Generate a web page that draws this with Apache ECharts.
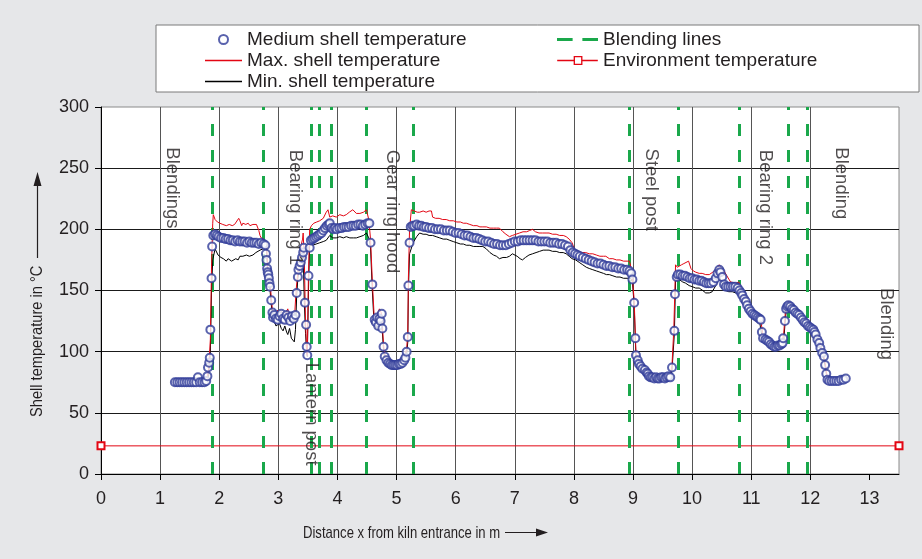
<!DOCTYPE html>
<html><head><meta charset="utf-8">
<script src="https://cdn.jsdelivr.net/npm/echarts@6/dist/echarts.min.js"></script>
<style>html,body{margin:0;padding:0;background:#e6e7e9;}#c{width:922px;height:559px;}</style>
</head><body><div id="c"></div>
<script>
const xTickLabels = [0,1,2,3,4,5,6,7,8,9,10,11,12,13];
const blendingX = [1.89, 2.74, 3.55, 3.70, 3.89, 4.49, 5.28, 8.93, 9.76, 10.79, 11.62, 11.95];
const envTemp = [[0,23],[13.5,23]];
const annotations = [
  ['Blendings', 1.20, 267],
  ['Bearing ring 1', 3.28, 265],
  ['Lantern post', 3.56, 91],
  ['Gear ring hood', 4.92, 265],
  ['Steel post', 9.31, 266],
  ['Bearing ring 2', 11.23, 265],
  ['Blending', 12.52, 267],
  ['Blending', 13.29, 152]
];
const mediumShell = [
[1.25,75],[1.29,75],[1.33,75],[1.37,75],[1.41,75],[1.45,75],[1.49,75],[1.53,75],[1.57,75],[1.61,75],[1.64,79],[1.67,75],[1.71,75],[1.75,75],[1.78,76],
[1.80,80],[1.81,87],[1.83,91],[1.84,95],[1.85,118],[1.87,160],[1.88,186],
[1.90,195],[1.93,196],[1.96,195],[1.99,194],[2.03,193],[2.07,193],[2.11,192],[2.15,192],[2.19,191],[2.23,191],[2.27,190],[2.31,191],[2.35,190],[2.39,190],[2.43,190],[2.47,189],[2.51,190],[2.55,189],[2.59,189],[2.63,189],[2.67,188],[2.71,189],[2.75,188],
[2.78,187],[2.79,180],[2.80,175],[2.81,168],[2.82,165],[2.83,163],[2.84,160],[2.85,156],[2.86,153],[2.88,142],[2.90,132],[2.91,128],
[2.93,130],[2.96,127],[2.99,126],[3.02,129],[3.05,131],[3.08,127],[3.11,126],[3.14,130],[3.17,128],[3.20,125],[3.23,129],[3.26,127],[3.29,130],
[3.31,148],[3.33,161],[3.34,167],[3.36,170],[3.38,173],[3.40,177],[3.42,181],[3.43,185],
[3.45,140],[3.47,122],[3.48,104],[3.49,97],[3.51,162],[3.53,185],
[3.55,191],[3.58,192],[3.61,193],[3.64,194],[3.67,195],[3.70,196],[3.73,197],[3.76,199],[3.79,201],[3.82,203],[3.85,204],[3.87,205],[3.90,201],[3.93,200],[3.96,201],[3.99,200],[4.03,201],[4.07,201],[4.11,202],[4.15,202],[4.19,202],[4.23,203],[4.27,203],[4.31,203],[4.35,204],[4.39,204],[4.43,203],[4.47,204],[4.51,205],[4.54,205],
[4.56,189],[4.59,155],[4.63,126],[4.65,124],[4.67,128],[4.69,121],[4.71,127],[4.73,125],[4.75,131],[4.76,119],[4.78,104],[4.80,96],
[4.83,93],[4.86,91],[4.89,90],[4.92,89],[4.95,89],[4.98,89],[5.01,89],[5.04,90],[5.07,90],[5.10,91],[5.13,93],[5.15,95],[5.17,100],[5.19,112],[5.20,154],[5.22,189],
[5.24,202],[5.27,203],[5.30,203],[5.34,204],[5.38,203],[5.42,203],[5.46,202],[5.50,202],[5.55,201],[5.60,201],[5.65,200],[5.70,200],[5.75,200],[5.80,199],[5.85,199],[5.90,199],[5.95,198],[6.00,197],[6.05,197],[6.10,196],[6.15,195],[6.20,195],[6.25,194],[6.30,193],[6.35,193],[6.40,192],[6.45,191],[6.50,190],[6.55,190],[6.60,189],[6.65,188],[6.70,188],[6.75,187],[6.80,187],[6.85,187],[6.90,188],[6.95,189],[7.00,190],[7.05,190],[7.10,191],[7.15,191],[7.20,191],[7.25,191],[7.30,191],[7.35,191],[7.40,190],[7.45,190],[7.50,190],[7.55,190],[7.60,189],[7.65,189],[7.70,189],[7.75,188],[7.80,188],[7.85,187],[7.90,186],[7.94,183],[7.98,181],[8.02,180],[8.06,179],[8.10,178],[8.15,177],[8.20,176],[8.25,175],[8.30,174],[8.35,173],[8.40,172],[8.45,172],[8.50,171],[8.55,170],[8.60,170],[8.65,169],[8.70,169],[8.75,168],[8.80,168],[8.85,167],[8.90,167],[8.94,166],[8.97,164],
[8.99,159],[9.02,140],[9.04,111],[9.05,97],[9.08,93],[9.10,90],[9.13,88],[9.16,86],[9.20,85],[9.23,83],[9.25,82],[9.27,80],[9.30,79],[9.33,79],[9.36,78],[9.39,79],[9.42,78],[9.45,78],[9.48,79],[9.51,79],[9.54,78],[9.57,79],[9.60,80],[9.63,79],[9.66,87],[9.70,117],[9.71,147],[9.74,161],
[9.76,163],[9.80,163],[9.84,162],[9.88,162],[9.92,161],[9.96,160],[10.00,160],[10.04,159],[10.08,159],[10.12,158],[10.16,158],[10.20,157],[10.24,156],[10.28,156],[10.32,156],[10.36,157],[10.40,160],[10.43,164],[10.46,167],[10.48,165],[10.51,161],[10.54,155],[10.57,153],[10.61,153],[10.65,153],[10.69,153],[10.73,153],[10.77,152],[10.80,150],
[10.83,148],[10.85,146],[10.88,143],[10.91,141],[10.93,138],[10.96,135],[10.99,133],[11.02,131],[11.05,130],[11.08,129],[11.11,128],[11.14,127],[11.16,126],[11.18,116],[11.20,111],[11.24,110],[11.27,109],[11.30,108],[11.33,106],[11.36,105],[11.39,104],[11.42,104],[11.45,105],[11.48,105],[11.51,106],[11.53,107],[11.54,111],[11.57,125],[11.59,135],[11.61,137],[11.63,138],[11.66,137],[11.69,135],[11.72,134],[11.75,132],[11.78,131],[11.81,130],[11.84,128],[11.87,126],[11.90,124],[11.93,123],[11.96,121],[11.99,120],[12.02,119],[12.05,118],[12.07,116],[12.09,114],[12.12,110],[12.15,107],[12.17,103],[12.20,99],[12.23,96],[12.25,89],[12.27,82],[12.29,77],[12.32,76],[12.36,76],[12.40,76],[12.44,76],[12.48,76],[12.52,77],[12.56,77],[12.60,78]
];
const maxShell = [
[1.25,76],[1.40,76],[1.55,75],[1.65,77],[1.78,76],[1.82,85],[1.85,110],[1.87,170],[1.89,205],[1.90,212],[1.93,208],[1.97,206],[2.01,205],[2.06,204],[2.12,203],[2.17,204],[2.22,203],[2.26,204],[2.29,205],[2.33,209],[2.35,207],[2.38,203],[2.40,205],[2.45,204],[2.49,205],[2.52,203],[2.57,204],[2.60,203],[2.63,204],[2.67,199],[2.69,195],[2.71,193],[2.75,192],[2.80,189],[2.82,170],[2.84,163],[2.86,156],[2.88,145],[2.90,134],[2.93,132],[2.96,128],[2.99,134],[3.02,128],[3.05,133],[3.08,130],[3.11,128],[3.14,133],[3.16,135],[3.19,128],[3.22,131],[3.25,130],[3.28,133],[3.30,150],[3.33,165],[3.36,174],[3.39,188],[3.41,192],[3.42,197],[3.44,175],[3.46,125],[3.48,100],[3.49,97],[3.51,165],[3.53,200],[3.56,203],[3.60,205],[3.65,206],[3.70,207],[3.76,209],[3.81,214],[3.84,216],[3.87,210],[3.92,211],[3.98,210],[4.04,212],[4.10,211],[4.15,212],[4.20,214],[4.26,216],[4.32,213],[4.38,213],[4.44,214],[4.49,216],[4.53,208],[4.56,192],[4.59,158],[4.62,130],[4.65,127],[4.68,131],[4.71,135],[4.74,132],[4.76,122],[4.78,106],[4.80,98],[4.84,95],[4.90,92],[4.96,91],[5.02,92],[5.08,92],[5.13,95],[5.17,102],[5.19,115],[5.20,160],[5.22,200],[5.25,216],[5.30,215],[5.35,214],[5.39,214],[5.45,215],[5.50,214],[5.55,215],[5.59,215],[5.61,210],[5.66,209],[5.72,209],[5.78,208],[5.84,208],[5.90,207],[5.96,207],[6.02,206],[6.08,206],[6.13,205],[6.18,205],[6.24,204],[6.30,203],[6.36,203],[6.41,202],[6.46,202],[6.52,202],[6.58,201],[6.64,201],[6.69,201],[6.74,201],[6.80,198],[6.85,196],[6.91,194],[6.96,195],[7.02,196],[7.08,197],[7.14,198],[7.20,198],[7.25,199],[7.30,200],[7.35,198],[7.41,197],[7.47,197],[7.53,197],[7.58,197],[7.64,196],[7.70,196],[7.76,195],[7.82,195],[7.87,194],[7.92,192],[7.97,189],[8.00,185],[8.03,182],[8.08,182],[8.14,181],[8.20,181],[8.26,180],[8.32,180],[8.38,179],[8.44,178],[8.50,178],[8.54,178],[8.60,176],[8.66,176],[8.72,175],[8.78,175],[8.84,174],[8.90,174],[8.94,174],[8.97,168],[8.99,160],[9.02,142],[9.04,113],[9.05,99],[9.08,95],[9.12,91],[9.16,88],[9.22,86],[9.27,81],[9.32,80],[9.40,80],[9.48,81],[9.56,80],[9.63,81],[9.66,89],[9.69,118],[9.72,171],[9.75,169],[9.78,170],[9.82,171],[9.86,172],[9.89,173],[9.94,174],[9.98,168],[10.02,166],[10.06,165],[10.12,164],[10.17,164],[10.23,163],[10.29,163],[10.35,165],[10.40,167],[10.43,169],[10.46,171],[10.50,168],[10.54,166],[10.60,161],[10.65,157],[10.68,156],[10.74,156],[10.79,157],[10.83,152],[10.86,149],[10.90,146],[10.94,142],[10.98,138],[11.02,135],[11.06,132],[11.10,131],[11.14,130],[11.16,129],[11.18,120],[11.20,113],[11.25,112],[11.30,110],[11.35,108],[11.40,107],[11.45,108],[11.50,108],[11.53,110],[11.55,115],[11.57,128],[11.59,138],[11.62,141],[11.66,140],[11.70,138],[11.75,135],[11.80,133],[11.85,130],[11.90,128],[11.95,125],[12.00,123],[12.04,121],[12.07,119],[12.10,116],[12.13,112],[12.16,108],[12.19,103],[12.22,99],[12.25,91],[12.28,81],[12.30,78],[12.40,78],[12.50,78],[12.60,79]
];
const minShell = [
[1.25,74],[1.40,74],[1.55,74],[1.65,75],[1.78,75],[1.82,80],[1.85,100],[1.87,150],[1.89,175],[1.93,184],[1.98,179],[2.03,177],[2.07,176],[2.12,174],[2.15,176],[2.18,176],[2.21,174],[2.24,174],[2.28,176],[2.32,175],[2.35,178],[2.40,178],[2.46,179],[2.51,178],[2.57,179],[2.62,181],[2.69,183],[2.74,184],[2.80,184],[2.82,163],[2.84,157],[2.86,150],[2.88,139],[2.90,128],[2.93,125],[2.96,121],[2.99,120],[3.02,123],[3.05,119],[3.08,117],[3.11,121],[3.14,116],[3.16,114],[3.19,119],[3.22,111],[3.25,112],[3.27,108],[3.29,118],[3.31,145],[3.33,160],[3.36,168],[3.39,174],[3.42,180],[3.44,140],[3.46,115],[3.48,99],[3.49,96],[3.51,150],[3.53,187],[3.58,187],[3.64,188],[3.70,189],[3.76,190],[3.81,191],[3.87,195],[3.92,193],[3.98,193],[4.04,194],[4.10,193],[4.15,194],[4.21,193],[4.27,193],[4.32,193],[4.38,194],[4.44,195],[4.49,197],[4.53,193],[4.56,185],[4.59,150],[4.62,123],[4.65,119],[4.68,122],[4.71,121],[4.74,124],[4.76,116],[4.78,101],[4.80,93],[4.84,91],[4.90,88],[4.96,87],[5.02,88],[5.08,89],[5.13,91],[5.17,97],[5.19,108],[5.20,150],[5.22,180],[5.28,189],[5.34,194],[5.39,197],[5.45,196],[5.50,196],[5.55,195],[5.61,195],[5.67,194],[5.73,193],[5.79,192],[5.85,192],[5.90,191],[5.96,190],[6.02,189],[6.08,188],[6.13,188],[6.18,187],[6.24,187],[6.30,186],[6.36,186],[6.41,186],[6.46,186],[6.52,184],[6.58,181],[6.64,179],[6.69,178],[6.74,176],[6.80,177],[6.86,177],[6.91,178],[6.96,180],[6.99,180],[7.04,178],[7.09,176],[7.13,175],[7.18,177],[7.24,179],[7.30,180],[7.36,181],[7.42,182],[7.48,183],[7.53,183],[7.58,183],[7.64,182],[7.70,182],[7.76,181],[7.82,181],[7.87,180],[7.92,178],[7.97,176],[8.03,175],[8.09,173],[8.15,171],[8.21,169],[8.26,168],[8.32,167],[8.38,166],[8.44,165],[8.50,164],[8.55,163],[8.60,163],[8.66,162],[8.72,161],[8.78,161],[8.84,160],[8.90,160],[8.96,160],[8.99,157],[9.02,138],[9.04,109],[9.05,95],[9.08,91],[9.12,88],[9.16,85],[9.22,83],[9.27,78],[9.32,77],[9.40,77],[9.48,77],[9.56,77],[9.63,77],[9.66,85],[9.70,115],[9.72,158],[9.78,159],[9.84,157],[9.89,156],[9.95,154],[10.01,153],[10.06,152],[10.12,152],[10.18,150],[10.23,148],[10.29,148],[10.34,149],[10.40,154],[10.46,161],[10.51,156],[10.57,150],[10.62,149],[10.68,149],[10.74,148],[10.79,148],[10.83,146],[10.86,143],[10.90,140],[10.94,136],[10.98,131],[11.02,128],[11.06,127],[11.10,126],[11.14,125],[11.16,124],[11.18,113],[11.20,108],[11.25,107],[11.30,106],[11.35,103],[11.40,102],[11.45,103],[11.50,104],[11.53,104],[11.55,108],[11.57,122],[11.59,132],[11.62,135],[11.66,135],[11.70,133],[11.75,130],[11.80,128],[11.85,126],[11.90,122],[11.95,120],[12.00,118],[12.04,117],[12.07,114],[12.10,112],[12.13,108],[12.16,104],[12.19,100],[12.22,96],[12.25,88],[12.28,79],[12.30,75],[12.40,75],[12.50,75],[12.60,76]
];

const FONT = "'Liberation Sans', Arial, sans-serif";
const RED = '#e30613', NAVY = '#2f3b98', GREEN = '#1aa84b', TXT = '#231f20';
const ICON_LINE = 'path://M0,0H37V1.5H0Z';
const ICON_DASH = 'path://M0,0H16V3.2H0Z M26,0H42V3.2H26Z';
const ICON_ENV = 'path://M0,4H15V5.2H0Z M23,4H37V5.2H23Z M15,0.5H23V1.7H15Z M15,7.5H23V8.7H15Z M15,0.5H16.2V8.7H15Z M21.8,0.5H23V8.7H21.8Z';
const chart = echarts.init(document.getElementById('c'), null, {renderer: 'canvas'});
chart.setOption({
  backgroundColor: '#e6e7e9',
  animation: false,
  textStyle: {fontFamily: FONT},
  graphic: [
    {type: 'rect', z: 0, shape: {x: 156, y: 25, width: 763, height: 67},
     style: {fill: '#fff', stroke: '#7a7a7a', lineWidth: 1}},
    {type: 'text', z: 5, x: 303, y: 533, scaleX: 0.77,
     style: {text: 'Distance x from kiln entrance in m', fontFamily: FONT, fontSize: 17, fill: TXT,
             verticalAlign: 'middle', align: 'left'}},
    {type: 'line', z: 5, shape: {x1: 505, y1: 532.5, x2: 538, y2: 532.5}, style: {stroke: TXT, lineWidth: 1.2}},
    {type: 'polygon', z: 5, shape: {points: [[536, 528.5], [548, 532.5], [536, 536.5]]}, style: {fill: TXT}},
    {type: 'text', z: 5, x: 37, y: 417, rotation: Math.PI / 2, scaleX: 0.86,
     style: {text: 'Shell temperature in \u00B0C', fontFamily: FONT, fontSize: 17, fill: TXT,
             verticalAlign: 'middle', align: 'left'}},
    {type: 'line', z: 5, shape: {x1: 37.5, y1: 258, x2: 37.5, y2: 184}, style: {stroke: TXT, lineWidth: 1.2}},
    {type: 'polygon', z: 5, shape: {points: [[33.5, 186], [37.5, 172], [41.5, 186]]}, style: {fill: TXT}}
  ],
  legend: [
    {left: 205, top: 30, padding: 0, orient: 'vertical', itemWidth: 37, itemHeight: 9, itemGap: 2,
     textStyle: {fontFamily: FONT, fontSize: 19, color: TXT, lineHeight: 19},
     data: [{name: 'Medium shell temperature', icon: 'emptyCircle'},
            {name: 'Max. shell temperature', icon: ICON_LINE},
            {name: 'Min. shell temperature', icon: ICON_LINE}]},
    {left: 557, top: 30, padding: 0, orient: 'vertical', itemWidth: 41, itemHeight: 9, itemGap: 2,
     textStyle: {fontFamily: FONT, fontSize: 19, color: TXT, lineHeight: 19},
     data: [{name: 'Blending lines', icon: ICON_DASH},
            {name: 'Environment temperature', icon: ICON_ENV}]}
  ],
  grid: {left: 101, right: 23, top: 107, bottom: 85, show: true, backgroundColor: '#fff',
         borderColor: '#8a8a8a', borderWidth: 1, outerBoundsMode: 'none'},
  xAxis: {type: 'value', min: 0, max: 13.5, interval: 0.5,
    axisLine: {show: true, onZero: false, lineStyle: {color: '#000', width: 1}},
    axisTick: {show: true, customValues: xTickLabels, length: 6, lineStyle: {color: '#000'}},
    axisLabel: {customValues: xTickLabels, margin: 16, fontFamily: FONT, fontSize: 18, color: TXT},
    splitLine: {show: true, showMaxLine: false, lineStyle: {color: '#555', width: 1}}
  },
  yAxis: {type: 'value', min: 0, max: 300, interval: 50,
    axisLine: {show: true, lineStyle: {color: '#000', width: 1}},
    axisTick: {show: true, length: 6, lineStyle: {color: '#000'}},
    axisLabel: {margin: 12, fontFamily: FONT, fontSize: 18, color: TXT},
    splitLine: {show: true, showMaxLine: false, lineStyle: {color: '#1a1a1a', width: 1}}
  },
  series: [
    {name: 'Environment temperature', type: 'line', data: envTemp, symbol: 'emptyRect', symbolSize: 7,
     itemStyle: {color: RED}, lineStyle: {color: RED, width: 1}, z: 3},
    {name: 'Blending lines', type: 'line', data: [], symbol: 'none',
     lineStyle: {color: GREEN, width: 3}, itemStyle: {color: GREEN},
     markLine: {silent: true, symbol: ['none', 'none'], label: {show: false},
       lineStyle: {color: GREEN, width: 3, type: [12, 14]},
       data: blendingX.map(x => ({xAxis: x}))}, z: 4},
    {name: 'Min. shell temperature', type: 'line', data: minShell, symbol: 'none',
     lineStyle: {color: '#000', width: 1}, itemStyle: {color: '#000'}, z: 5},
    {name: 'Max. shell temperature', type: 'line', data: maxShell, symbol: 'none',
     lineStyle: {color: RED, width: 1}, itemStyle: {color: RED}, z: 6},
    {name: 'Medium shell temperature', type: 'scatter', data: mediumShell, symbol: 'emptyCircle', symbolSize: 8,
     itemStyle: {color: NAVY, borderWidth: 1.5}, z: 7},
    {name: 'annotations', type: 'scatter', symbolSize: 0, silent: true, z: 8,
     data: annotations.map(a => ({name: a[0], value: [a[1], a[2]]})),
     label: {show: true, formatter: '{b}', position: 'inside', align: 'left', verticalAlign: 'middle',
       rotate: -90, fontFamily: FONT, fontSize: 18.5, color: TXT}}
  ]
});
</script></body></html>
